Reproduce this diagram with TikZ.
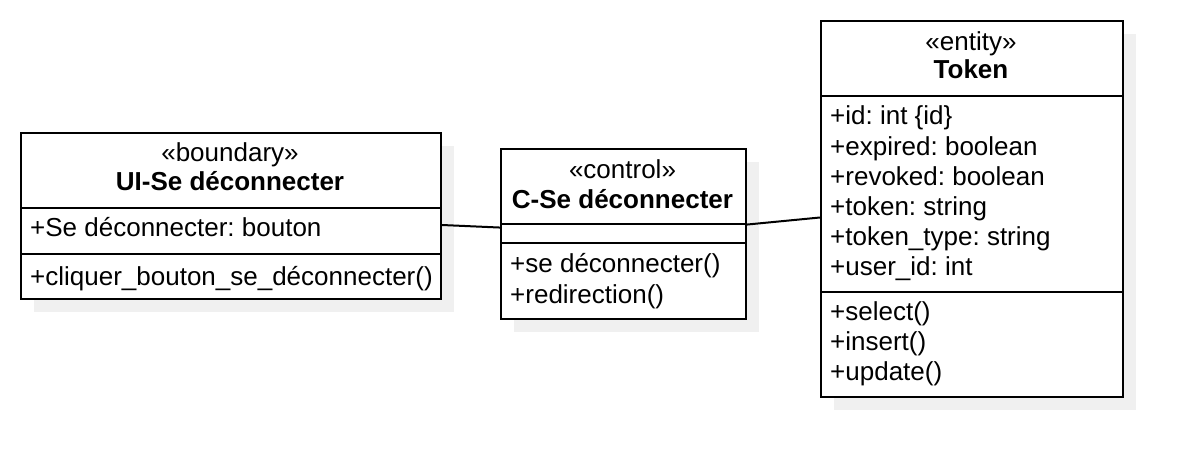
\documentclass[tikz,border=0pt]{standalone}
\usepackage{fontspec}
\setmainfont{Liberation Sans}
\frenchspacing
\begin{document}
\begin{tikzpicture}[x=1pt,y=-1pt,
  box/.style={draw=black, line width=2pt, fill=white, inner sep=0pt, anchor=north west},
  shadowfill/.style={fill=black!6, draw=none},
  divider/.style={line width=2pt},
  txt/.style={inner sep=0pt, font=\fontsize{26}{30}\selectfont, text height=22.5pt, text depth=5pt},
  lbl/.style={txt, anchor=west},
  ttl/.style={txt, font=\fontsize{26}{30}\selectfont\bfseries},
  conn/.style={line width=2pt}]
\useasboundingbox[fill=white] (0,0) rectangle (1202,476);
% shadows
\fill[shadowfill] (34,146) rectangle (454,312);
\fill[shadowfill] (514,162) rectangle (759,332);
\fill[shadowfill] (834,34) rectangle (1136,410);
% boxes
\node[box, minimum width=420pt, minimum height=166pt] (ui) at (20,132) {};
\node[box, minimum width=245pt, minimum height=169.5pt] (ctl) at (500,148.3) {};
\node[box, minimum width=302pt, minimum height=376pt] (tok) at (820,20) {};
% dividers
\draw[divider] (20,208.3) -- (440,208.3);
\draw[divider] (20,254) -- (440,254);
\draw[divider] (500,224.3) -- (745,224.3);
\draw[divider] (500,243.3) -- (745,243.3);
\draw[divider] (820,96) -- (1122,96);
\draw[divider] (820,291.7) -- (1122,291.7);
% UI texts
\node[txt] (uist) at (230,153) {«boundary»};
\node[ttl] (uiname) at (230,182) {UI-Se déconnecter};
\node[lbl] (uia1) at (30,228) {+Se déconnecter: bouton};
\node[lbl] (uim1) at (30,277) {+cliquer\_bouton\_se\_déconnecter()};
% control texts
\node[txt] (ctlst) at (622.5,170) {«control»};
\node[ttl] (ctlname) at (622.5,200) {C-Se déconnecter};
\node[lbl] (ctlm1) at (510,264) {+se déconnecter()};
\node[lbl] (ctlm2) at (510,295) {+redirection()};
% token texts
\node[txt] (tokst) at (971,42) {«entity»};
\node[ttl] (tokname) at (971,70) {Token};
\node[lbl] (toka1) at (830,116) {+id: int \{id\}};
\node[lbl] (toka2) at (830,146.5) {+expired: boolean};
\node[lbl] (toka3) at (830,176.5) {+revoked: boolean};
\node[lbl] (toka4) at (830,206.5) {+token: string};
\node[lbl] (toka5) at (830,236.5) {+token\_type: string};
\node[lbl] (toka6) at (830,266.5) {+user\_id: int};
\node[lbl] (tokm1) at (830,311.5) {+select()};
\node[lbl] (tokm2) at (830,341.5) {+insert()};
\node[lbl] (tokm3) at (830,371.5) {+update()};
% connectors
\draw[conn] ([yshift=-9pt]ui.east) -- ([yshift=6.5pt]ctl.west);
\draw[conn] ([yshift=9.5pt]ctl.east) -- ([yshift=-8.5pt]tok.west);
\end{tikzpicture}
\end{document}
